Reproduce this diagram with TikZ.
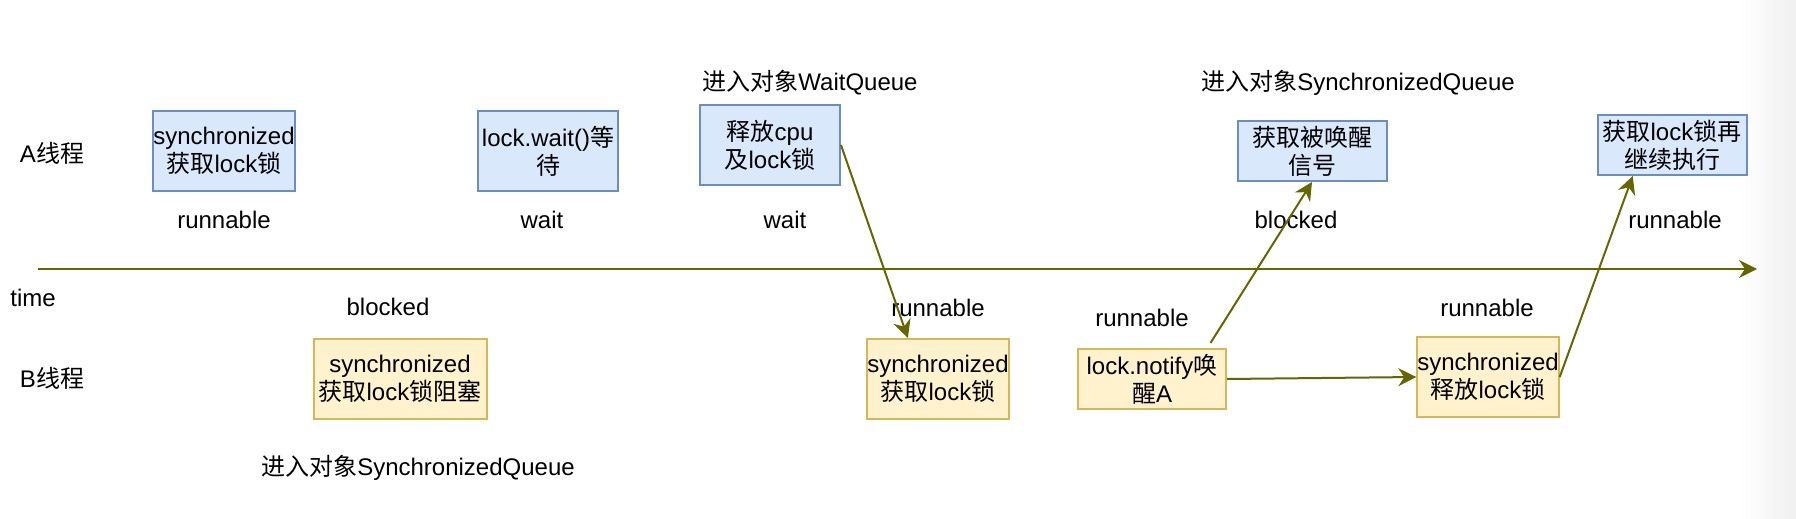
\documentclass[tikz,border=0pt]{standalone}
\usepackage{fontspec}
\setmainfont{Liberation Sans}
\newfontfamily\cjk{Noto Sans CJK SC}
\newcommand{\zh}[1]{{\cjk #1}}
\usetikzlibrary{arrows.meta, calc}
\definecolor{olivearr}{HTML}{666600}
\definecolor{bluefill}{HTML}{DAE8FC}
\definecolor{bluedraw}{HTML}{6C8EBF}
\definecolor{yelfill}{HTML}{FFF2CC}
\definecolor{yeldraw}{HTML}{D6B656}
\tikzset{
  ablock/.style = {draw=bluedraw, fill=bluefill, line width=1pt, rectangle,
                   align=center, inner sep=0pt, font=\fontsize{12}{14}\selectfont},
  bblock/.style = {draw=yeldraw, fill=yelfill, line width=1pt, rectangle,
                   align=center, inner sep=0pt, font=\fontsize{12}{14}\selectfont},
  arr/.style    = {-{Stealth[length=9pt, width=9pt, inset=3pt]},
                   draw=olivearr, fill=olivearr, line width=1pt},
  lbl/.style    = {inner sep=0pt, font=\fontsize{12}{14}\selectfont}
}

\begin{document}
\begin{tikzpicture}[x=0.5pt, y=-0.5pt]

  \useasboundingbox (0,0) rectangle (1796,519);
  \fill[white] (0,0) rectangle (1796,519);
  \shade[left color=white, right color=gray!12] (1740,0) rectangle (1796,519);

  % ── Row labels and time axis ─────────────────────────────────────────────
  \node[lbl] (ThA)  at (52,153)  {A\zh{线程}};
  \node[lbl] (ThB)  at (52,378)  {B\zh{线程}};
  \node[lbl] (Time) at (33,298)  {time};
  \coordinate (T0) at (38,269);
  \coordinate (T1) at (1757,269);
  \draw[arr] (T0) -- (T1);

  % ── Thread A ─────────────────────────────────────────────────────────────
  \node[ablock, minimum width=70.5pt, minimum height=40pt] (A1) at (224,151)
       {synchronized\\\zh{获取}lock\zh{锁}};
  \node[ablock, minimum width=70pt, minimum height=40pt] (A2) at (548,151)
       {lock.wait()\zh{等}\\\zh{待}};
  \node[ablock, minimum width=70pt, minimum height=40pt] (A3) at (770,145)
       {\zh{释放}cpu\\\zh{及}lock\zh{锁}};
  \node[ablock, minimum width=74.5pt, minimum height=30pt] (A4) at (1312,151)
       {\zh{获取被唤醒}\\\zh{信号}};
  \node[ablock, minimum width=74.5pt, minimum height=30pt] (A5) at (1672,145)
       {\zh{获取}lock\zh{锁再}\\\zh{继续执行}};

  \node[lbl] (SA1) at (224,220)  {runnable};
  \node[lbl] (SA2) at (542,220)  {wait};
  \node[lbl] (SA3) at (785,220)  {wait};
  \node[lbl] (SA4) at (1296,220) {blocked};
  \node[lbl] (SA5) at (1675,220) {runnable};

  \node[lbl] (QWait) at (810,83)  {\zh{进入对象}WaitQueue};
  \node[lbl] (QSyncA) at (1358,83) {\zh{进入对象}SynchronizedQueue};

  % ── Thread B ─────────────────────────────────────────────────────────────
  \node[bblock, minimum width=86.5pt, minimum height=40pt] (B1) at (400,379)
       {synchronized\\\zh{获取}lock\zh{锁阻塞}};
  \node[bblock, minimum width=70pt, minimum height=40pt] (B2) at (938,379)
       {synchronized\\\zh{获取}lock\zh{锁}};
  \node[bblock, minimum width=74pt, minimum height=30pt] (B3) at (1152,379)
       {lock.notify\zh{唤}\\\zh{醒}A};
  \node[bblock, minimum width=70.5pt, minimum height=40pt] (B4) at (1488,377)
       {synchronized\\\zh{释放}lock\zh{锁}};

  \node[lbl] (SB1) at (388,307)  {blocked};
  \node[lbl] (SB2) at (938,308)  {runnable};
  \node[lbl] (SB3) at (1142,318) {runnable};
  \node[lbl] (SB4) at (1487,308) {runnable};

  \node[lbl] (QSyncB) at (418,468) {\zh{进入对象}SynchronizedQueue};

  % ── Hand-overs between the threads ───────────────────────────────────────
  \draw[arr] (A3.east) -- ($(B2.north west)!0.29!(B2.north east)$);
  \draw[arr] ($(B3.north west)!0.89!(B3.north east)+(0,-5)$) -- (A4.south);
  \draw[arr] (B3.east) -- (B4.west);
  \draw[arr] (B4.east) -- ($(A5.south west)!0.24!(A5.south east)$);

\end{tikzpicture}
\end{document}
